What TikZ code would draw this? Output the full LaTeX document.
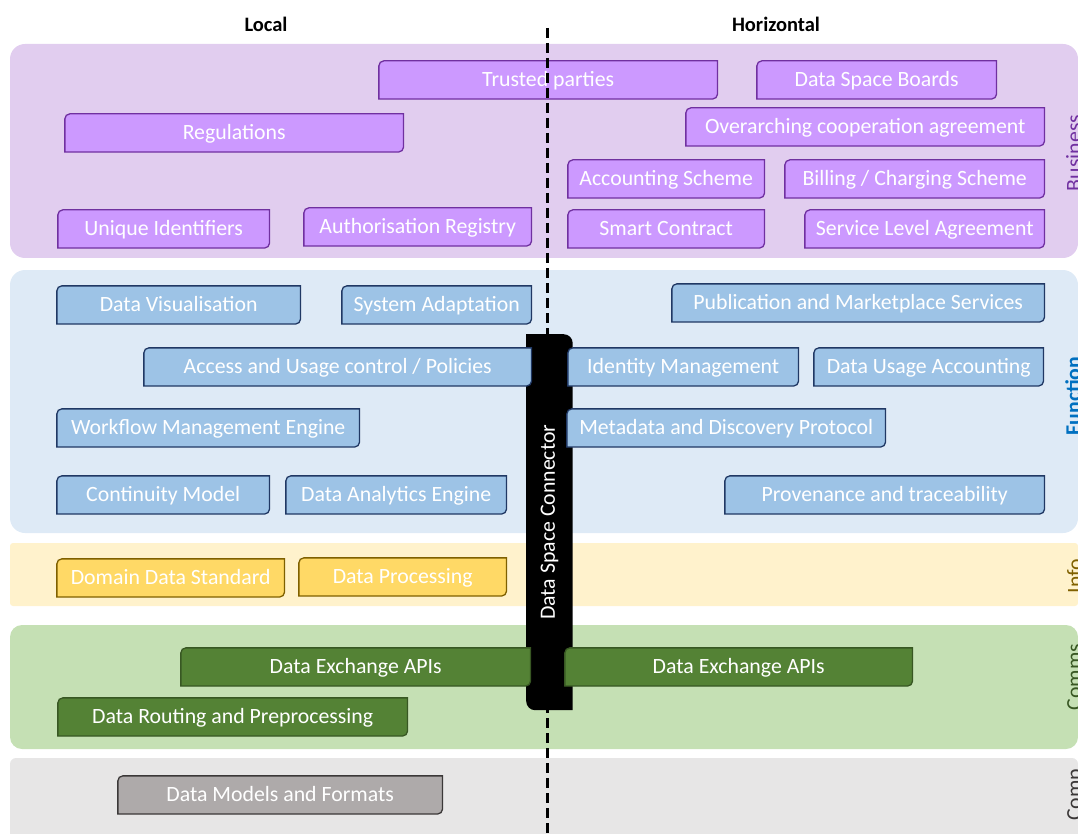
\documentclass[tikz,border=0pt]{standalone}
\usepackage{fontspec}
\setmainfont{Carlito}

\definecolor{bizbg}{RGB}{225,205,239}
\definecolor{bizfill}{RGB}{204,153,255}
\definecolor{bizline}{RGB}{112,48,160}
\definecolor{funbg}{RGB}{222,234,246}
\definecolor{funfill}{RGB}{157,195,230}
\definecolor{funline}{RGB}{32,56,100}
\definecolor{funlab}{RGB}{0,112,192}
\definecolor{infbg}{RGB}{255,242,204}
\definecolor{inffill}{RGB}{255,217,102}
\definecolor{infline}{RGB}{127,96,0}
\definecolor{combg}{RGB}{197,224,180}
\definecolor{comfill}{RGB}{84,130,53}
\definecolor{comline}{RGB}{56,87,35}
\definecolor{cmpbg}{RGB}{231,230,230}
\definecolor{cmpfill}{RGB}{174,170,170}
\definecolor{cmpline}{RGB}{59,56,56}

\begin{document}
\begin{tikzpicture}[x=1pt,y=1pt,
  box/.style 2 args={rectangle,inner sep=0,minimum height=39.5,anchor=north west,text=white,
    font=\fontsize{21.8}{24}\selectfont,text height=16pt,text depth=2pt,
    path picture={\filldraw[fill=#1,draw=#2,line width=1.3pt]
      ([shift={(0.65pt,0.65pt)}]path picture bounding box.south west)
      -- ([shift={(0.65pt,-5.65pt)}]path picture bounding box.north west)
      arc[start angle=180,end angle=90,radius=5pt]
      -- ([shift={(-0.65pt,-0.65pt)}]path picture bounding box.north east)
      -- ([shift={(-0.65pt,5.65pt)}]path picture bounding box.south east)
      arc[start angle=0,end angle=-90,radius=5pt]
      -- cycle;}},
  biz/.style={box={bizfill}{bizline}},
  fun/.style={box={funfill}{funline}},
  inf/.style={box={inffill}{infline}},
  com/.style={box={comfill}{comline}},
  cmp/.style={box={cmpfill}{cmpline}},
  conn/.style={rectangle,inner sep=0,minimum width=46.5,minimum height=376,anchor=north west,
    path picture={\fill[black] (path picture bounding box.north west)
      -- ([xshift=-9pt]path picture bounding box.north east)
      arc[start angle=90,end angle=0,radius=9pt]
      -- (path picture bounding box.south east)
      -- ([xshift=9pt]path picture bounding box.south west)
      arc[start angle=270,end angle=180,radius=9pt]
      -- cycle;}},
  head/.style={font=\bfseries\fontsize{20.5}{22}\selectfont,inner sep=0},
  sidelab/.style={rotate=90,anchor=north,inner sep=0,font=\fontsize{21.8}{24}\selectfont}]
  \useasboundingbox (0,0) rectangle (1078,-834);
  \clip (0,0) rectangle (1078,-834);
  % Layers
  \fill[bizbg,rounded corners=15] (10,-44) rectangle (1078,-258);
  \fill[funbg,rounded corners=15] (10,-270) rectangle (1078,-533);
  \fill[infbg,rounded corners=3] (10,-543) rectangle (1078,-606);
  \fill[combg,rounded corners=12] (10,-625) rectangle (1078,-749);
  \fill[cmpbg,rounded corners=6] (10,-758) rectangle (1078,-850);
  % Headers
  {\node[head] (local) at (266,-24) {Local};}
  {\node[head] (horiz) at (776,-24) {Horizontal};}
  % Business
  {\node[biz,minimum width=340] (trusted) at (378,-60) {Trusted parties};}
  {\node[biz,minimum width=241] (boards) at (756,-60) {Data Space Boards};}
  {\node[biz,minimum width=340] (regul) at (64,-113) {Regulations};}
  {\node[biz,minimum width=360] (coop) at (685,-107) {Overarching cooperation agreement};}
  {\node[biz,minimum width=198] (account) at (567,-159) {Accounting Scheme};}
  {\node[biz,minimum width=261] (billing) at (784,-159) {Billing / Charging Scheme};}
  {\node[biz,minimum width=213] (uid) at (57,-209) {Unique Identifiers};}
  {\node[biz,minimum width=229] (authreg) at (303,-207) {Authorisation Registry};}
  {\node[biz,minimum width=198] (smart) at (567,-209) {Smart Contract};}
  {\node[biz,minimum width=241] (sla) at (804,-209) {Service Level Agreement};}
  % Divider and connector
  \coordinate (divtop) at (547.5,-28);
  \coordinate (divbot) at (547.5,-834);
  \draw[line width=3pt,dash pattern=on 10pt off 5pt] (divtop) -- (divbot);
  {\node[conn] (dsc) at (526,-334) {};}
  {\node[rotate=90,text=white,inner sep=0,font=\fontsize{21.8}{24}\selectfont] (dsclab) at (dsc.center) {Data Space Connector};}
  % Function
  {\node[fun,minimum width=245] (visual) at (56,-285) {Data Visualisation};}
  {\node[fun,minimum width=191] (adapt) at (341,-285) {System Adaptation};}
  {\node[fun,minimum width=374] (market) at (671,-283) {Publication and Marketplace Services};}
  {\node[fun,minimum width=389] (access) at (143,-347) {Access and Usage control / Policies};}
  {\node[fun,minimum width=232] (ident) at (567,-347) {Identity Management};}
  {\node[fun,minimum width=231] (usage) at (813,-347) {Data Usage Accounting};}
  {\node[fun,minimum width=304] (workflow) at (56,-408) {Workflow Management Engine};}
  {\node[fun,minimum width=320] (meta) at (566,-408) {Metadata and Discovery Protocol};}
  {\node[fun,minimum width=214] (contin) at (56,-475) {Continuity Model};}
  {\node[fun,minimum width=222] (analytics) at (285,-475) {Data Analytics Engine};}
  {\node[fun,minimum width=321] (proven) at (724,-475) {Provenance and traceability};}
  % Info
  {\node[inf,minimum width=229] (domain) at (56,-558) {Domain Data Standard};}
  {\node[inf,minimum width=209] (process) at (298,-557) {Data Processing};}
  % Comms
  {\node[com,minimum width=351] (apileft) at (180,-647) {Data Exchange APIs};}
  {\node[com,minimum width=349] (apiright) at (564,-647) {Data Exchange APIs};}
  {\node[com,minimum width=351] (routing) at (57,-697) {Data Routing and Preprocessing};}
  % Comp
  {\node[cmp,minimum width=326] (models) at (117,-775) {Data Models and Formats};}
  % Side labels
  {\node[sidelab,text=bizline] (lbiz) at (1066,-153) {Business};}
  {\node[sidelab,text=funlab,font=\bfseries\fontsize{21.8}{24}\selectfont] (lfun) at (1065,-396) {Function};}
  {\node[sidelab,text=infline] (linf) at (1067,-576) {Info};}
  {\node[sidelab,text=comline] (lcom) at (1067,-677) {Comms};}
  {\node[sidelab,text=cmpline] (lcmp) at (1067,-792) {Comp.};}
\end{tikzpicture}
\end{document}
